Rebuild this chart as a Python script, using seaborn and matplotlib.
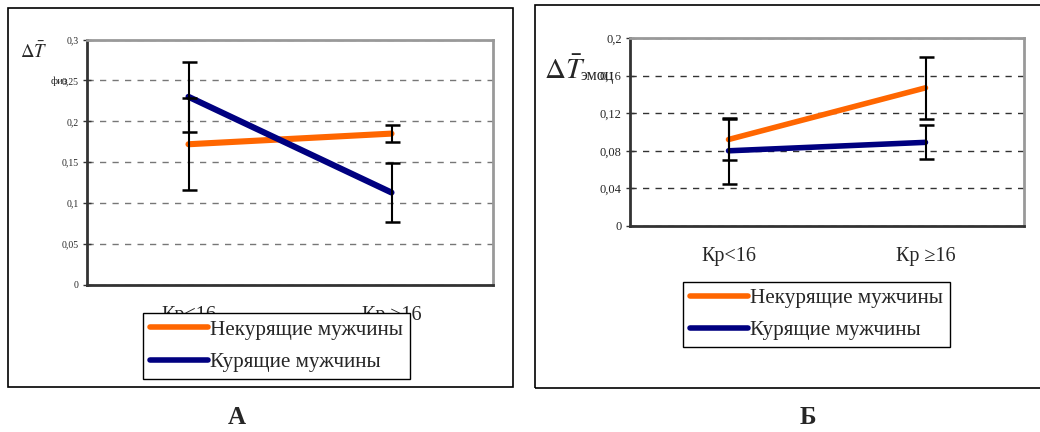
import numpy as np
import pandas as pd
import seaborn as sns
import matplotlib.pyplot as plt
from matplotlib.lines import Line2D
from matplotlib.patches import Rectangle

sns.set_style("white")
plt.rcParams['font.family'] = ['Liberation Serif', 'DejaVu Serif']
plt.rcParams['mathtext.fontset'] = 'stix'

# ---------------------------------------------------------------- data
cats = ["Кр<16", "Кр ≥16"]
groups = ["Некурящие мужчины", "Курящие мужчины"]

a_nonsmoke = [0.172, 0.185]
a_nonsmoke_err = [0.056, 0.010]
a_smoke = [0.230, 0.113]
a_smoke_err = [0.043, 0.036]

b_nonsmoke = [0.092, 0.147]
b_nonsmoke_err = [0.022, 0.033]
b_smoke = [0.080, 0.089]
b_smoke_err = [0.035, 0.018]

a_yticks = [0, 0.05, 0.1, 0.15, 0.2, 0.25, 0.3]
a_ylabels = ["0", "0,05", "0,1", "0,15", "0,2", "0,25", "0,3"]
b_yticks = [0, 0.04, 0.08, 0.12, 0.16, 0.2]
b_ylabels = ["0", "0,04", "0,08", "0,12", "0,16", "0,2"]

colors = {groups[0]: "#FF6600", groups[1]: "#000080"}

W, H = 1040, 432


def box(l, t, r, b):
    return [l / W, 1 - b / H, (r - l) / W, (b - t) / H]


def make_df(nonsmoke, smoke, ns_err, s_err):
    pos = np.arange(len(cats))
    return pd.DataFrame({
        "pos": np.concatenate([pos, pos]),
        "val": nonsmoke + smoke,
        "err": ns_err + s_err,
        "group": [groups[0]] * len(cats) + [groups[1]] * len(cats),
    })


def draw_panel(ax, df, yticks, ylabels, tick_fs, lw, grid_color, cap):
    sns.lineplot(data=df, x="pos", y="val", hue="group", palette=colors,
                 linewidth=lw, sort=False, legend=False, ax=ax,
                 solid_capstyle='round', zorder=3)
    for g in groups:
        d = df[df["group"] == g]
        ax.errorbar(d["pos"], d["val"], yerr=d["err"], fmt='none',
                    ecolor='black', elinewidth=1.5, capsize=cap,
                    capthick=1.8, zorder=4)
    ax.set_xlim(-0.5, 1.5)
    ax.set_ylim(yticks[0], yticks[-1])
    ax.set_yticks(yticks)
    ax.set_yticklabels(ylabels, fontsize=tick_fs)
    ax.set_xticks(np.arange(len(cats)))
    ax.set_xticklabels(cats, fontsize=14.5)
    ax.set_xticks([0.5], minor=True)
    ax.tick_params(axis='x', which='major', length=0, pad=15)
    ax.tick_params(axis='x', which='minor', length=4.5, width=1, direction='out', color='#333333')
    ax.tick_params(axis='y', length=6, width=1, direction='inout', color='#333333', pad=3, left=True)
    ax.set_xlabel("")
    ax.set_ylabel("")
    ax.yaxis.grid(True, linestyle=(0, (4.5, 4.5)), color=grid_color, linewidth=1)
    ax.xaxis.grid(False)
    for s in ["top", "right"]:
        ax.spines[s].set_color("#999999")
        ax.spines[s].set_linewidth(2)
    for s in ["left", "bottom"]:
        ax.spines[s].set_color("#333333")
        ax.spines[s].set_linewidth(2)


fig = plt.figure(figsize=(10.4, 4.32), dpi=100)

# outer frames
fig.add_artist(Rectangle((8 / W, 1 - 387 / H), 505 / W, 379 / H, transform=fig.transFigure,
                         fill=False, edgecolor='black', linewidth=1.2))
fig.add_artist(Rectangle((535 / W, 1 - 388 / H), 520 / W, 383 / H, transform=fig.transFigure,
                         fill=False, edgecolor='black', linewidth=1.2))

# panel A
axA = fig.add_axes(box(87, 39.5, 493, 285))
dfA = make_df(a_nonsmoke, a_smoke, a_nonsmoke_err, a_smoke_err)
draw_panel(axA, dfA, a_yticks, a_ylabels, 7, 4.4, "#777777", 5.4)

# panel B
axB = fig.add_axes(box(630, 38, 1024, 226))
dfB = make_df(b_nonsmoke, b_smoke, b_nonsmoke_err, b_smoke_err)
draw_panel(axB, dfB, b_yticks, b_ylabels, 9, 4.0, "#333333", 5.4)

# y labels
fig.text(20 / W, 1 - 58 / H, r"$\Delta\bar{T}$", fontsize=13.5, va='baseline', ha='left')
fig.text(51 / W, 1 - 84 / H, "физ", fontsize=8, va='baseline', ha='left')
fig.text(544 / W, 1 - 79 / H, r"$\Delta\bar{T}$", fontsize=21, va='baseline', ha='left')
fig.text(581 / W, 1 - 80 / H, "эмоц", fontsize=11.5, va='baseline', ha='left')

# legends
handles = [Line2D([], [], color=colors[g], linewidth=4, solid_capstyle='round') for g in groups]
for (l, t) in [(143, 313), (683, 281.5)]:
    fig.legend(handles, groups, loc='upper left', bbox_to_anchor=(l / W, 1 - t / H),
               borderaxespad=0, fontsize=15.2, handlelength=2.75, handletextpad=0.12,
               labelspacing=0.6, borderpad=0.32, fancybox=False, framealpha=1,
               edgecolor='black', facecolor='white')

# panel letters
fig.text(237 / W, 1 - 418 / H, "А", fontsize=18, fontweight='bold', ha='center', va='center')
fig.text(808 / W, 1 - 418 / H, "Б", fontsize=18, fontweight='bold', ha='center', va='center')

fig.savefig("out.png", dpi=100)
